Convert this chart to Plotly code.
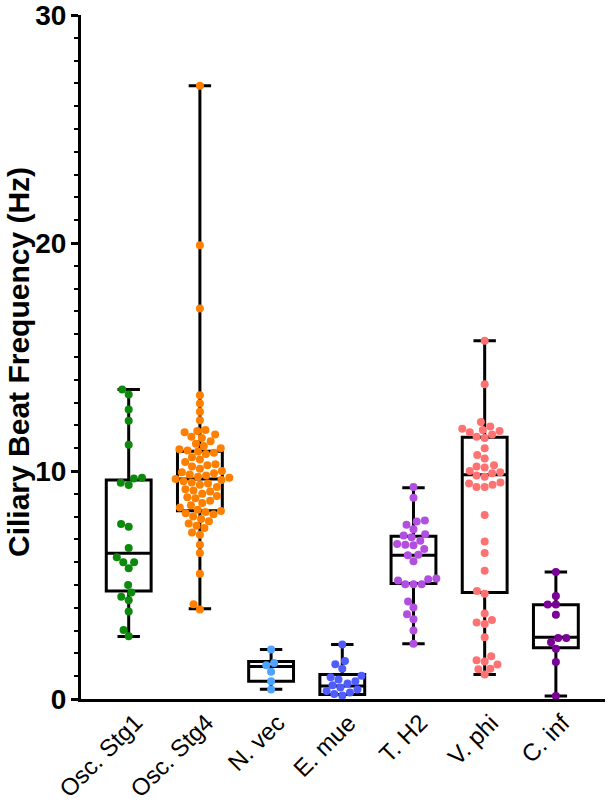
import math
import plotly.graph_objects as go

categories = ["Osc. Stg1", "Osc. Stg4", "N. vec", "E. mue", "T. H2", "V. phi", "C. inf"]
colors = ["#0b8a0b", "#ff8000", "#4da3ff", "#4f5cff", "#b24fe0", "#ff7272", "#7a0096"]

osc_stg1 = [13.57, 13.35, 12.7, 12.2, 11.15, 9.7, 9.67, 9.48, 9.39, 7.68, 7.55, 6.62,
            6.22, 6.0, 6.0, 5.73, 5.0, 4.67, 4.48, 4.33, 3.84, 3.03, 2.75]
osc_stg4 = [26.9, 19.9, 17.13, 13.32, 12.96, 12.6, 12.23, 11.8, 11.75, 11.7, 11.6, 11.5,
            11.45, 11.3, 11.2, 11.1, 11.0, 10.95, 10.9, 10.85, 10.8, 10.75, 10.6, 10.5,
            10.4, 10.3, 10.25, 10.2, 10.1, 10.0, 9.95, 9.9, 9.85, 9.8, 9.75, 9.7, 9.65,
            9.6, 9.55, 9.5, 9.45, 9.4, 9.3, 9.2, 9.15, 9.1, 9.0, 8.9, 8.85, 8.8, 8.7, 8.6,
            8.5, 8.4, 8.3, 8.25, 8.2, 8.15, 8.1, 8.0, 7.9, 7.8, 7.7, 7.6, 7.5, 7.3, 7.2,
            6.77, 6.4, 5.49, 4.16, 3.93]
n_vec = [2.17, 1.58, 1.48, 1.19, 0.78, 0.42]
e_mue = [2.39, 1.67, 1.52, 1.33, 1.02, 0.95, 0.85, 0.78, 0.68, 0.6, 0.5, 0.42, 0.35, 0.28,
         0.22, 0.15]
t_h2 = [9.3, 8.83, 7.83, 7.78, 7.64, 7.45, 7.23, 7.17, 7.09, 6.94, 6.8, 6.77, 6.74, 6.58,
        6.33, 6.3, 6.04, 5.29, 5.25, 5.2, 5.03, 5.03, 5.03, 4.28, 4.01, 3.72, 3.5, 3.0, 2.42]
v_phi = [15.71, 13.8, 12.15, 11.95, 11.85, 11.8, 11.75, 11.7, 11.6, 11.5, 11.45, 11.0,
         10.7, 10.55, 10.25, 10.2, 10.15, 10.0, 9.95, 9.9, 9.8, 9.75, 9.5, 9.45, 9.4, 9.3,
         9.3, 8.07, 6.91, 6.4, 5.63, 4.74, 4.62, 3.75, 3.46, 3.36, 3.29, 2.71, 1.87, 1.7,
         1.65, 1.51, 1.33, 1.3, 1.07]
c_inf = [5.57, 4.52, 4.15, 4.15, 3.7, 2.67, 2.67, 2.49, 2.2, 1.62, 0.13]

series = [osc_stg1, osc_stg4, n_vec, e_mue, t_h2, v_phi, c_inf]

# box statistics
q1 = [4.74, 8.26, 0.78, 0.2, 5.07, 4.67, 2.25]
median = [6.39, 9.65, 1.43, 0.57, 6.3, 9.84, 2.71]
q3 = [9.6, 10.87, 1.65, 1.07, 7.14, 11.48, 4.13]
low = [2.74, 3.96, 0.43, 0.2, 2.42, 1.07, 0.13]
high = [13.57, 26.9, 2.17, 2.39, 9.27, 15.71, 5.57]

y_title = "Ciliary Beat Frequency (Hz)"

W, H = 608, 805
ML, MR, MT, MB = 81, 3, 15, 106
XR = [-0.67, 6.69]
YR = [0, 30.0001]
PW, PH = W - ML - MR, H - MT - MB
xs = PW / (XR[1] - XR[0])
ys = PH / (YR[1] - YR[0])
DIAM = 8.2


def swarm(vals):
    order = sorted(range(len(vals)), key=lambda i: vals[i])
    placed = []
    offs = [0.0] * len(vals)
    for i in order:
        y = vals[i] * ys
        cands = [0.0]
        for px, py in placed:
            dy = y - py
            if abs(dy) < DIAM:
                dx = math.sqrt(DIAM ** 2 - dy ** 2)
                cands += [px + dx, px - dx]
        cands.sort(key=lambda c: (abs(c), c))
        for c in cands:
            if all((c - px) ** 2 + (y - py) ** 2 >= DIAM ** 2 - 1e-6 for px, py in placed):
                break
        placed.append((c, y))
        offs[i] = c / xs
    return offs


fig = go.Figure()
for k, cat in enumerate(categories):
    fig.add_trace(go.Box(
        x=[k], q1=[q1[k]], median=[median[k]], q3=[q3[k]],
        lowerfence=[low[k]], upperfence=[high[k]],
        width=0.63, whiskerwidth=0.5, fillcolor="rgba(255,255,255,0)",
        line=dict(color="black", width=3), showlegend=False, hoverinfo="skip",
    ))
for k, vals in enumerate(series):
    offs = swarm(vals)
    fig.add_trace(go.Scatter(
        x=[k + o for o in offs], y=vals, mode="markers",
        marker=dict(color=colors[k], size=8, line=dict(width=0)),
        showlegend=False,
    ))

# category labels, rotated
for k, cat in enumerate(categories):
    fig.add_annotation(
        x=k + 0.3, xref="x", y=0, yref="paper", yshift=-7,
        text=cat, textangle=-45, showarrow=False,
        xanchor="right", yanchor="top", font=dict(size=24),
    )

fig.add_annotation(
    x=-63 / PW, xref="paper", y=(H - MB - 362) / PH, yref="paper",
    text=y_title, textangle=-90, showarrow=False, xanchor="center", yanchor="middle",
    font=dict(size=30, weight="bold"),
)

fig.update_layout(
    width=W, height=H, margin=dict(l=ML, r=MR, t=MT, b=MB, autoexpand=False),
    plot_bgcolor="white", paper_bgcolor="white",
    font=dict(family="Arial, Liberation Sans, sans-serif", color="black"),
)
fig.update_xaxes(
    range=XR, tickmode="array", tickvals=list(range(len(categories))), showticklabels=False,
    showgrid=False, zeroline=False, automargin=False,
    showline=True, linecolor="black", linewidth=3, ticks="",
)
fig.update_yaxes(
    range=YR, tickmode="linear", tick0=0, dtick=10, automargin=False,
    tickfont=dict(size=28, weight="bold"), showgrid=False, zeroline=False,
    showline=True, linecolor="black", linewidth=3,
    ticks="outside", ticklen=7, tickwidth=3, tickcolor="black",
    ticklabelstandoff=-1, ticklabeloverflow="allow",
    minor=dict(tickmode="linear", tick0=0, dtick=1, ticks="outside", ticklen=4,
               tickwidth=2, tickcolor="black"),
)
fig.write_html("out.html")
